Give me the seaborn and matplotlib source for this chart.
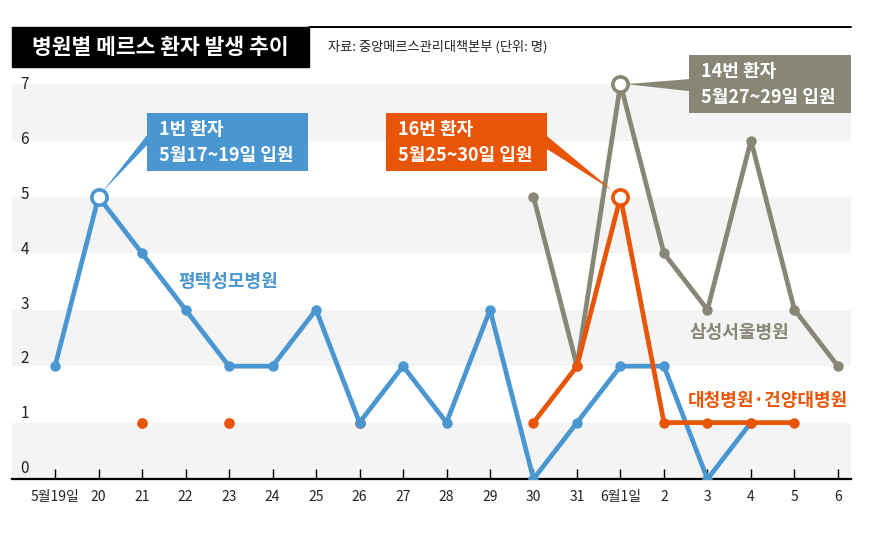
import numpy as np
import matplotlib
matplotlib.use("Agg")
import matplotlib.pyplot as plt
from matplotlib.patches import Rectangle, Polygon
from matplotlib.lines import Line2D
import seaborn as sns

# ---- data ----
dates = ["5월19일", "20", "21", "22", "23", "24", "25", "26", "27", "28", "29",
         "30", "31", "6월1일", "2", "3", "4", "5", "6"]

pyeongtaek_dates = ["5월19일", "20", "21", "22", "23", "24", "25", "26", "27",
                    "28", "29", "30", "31", "6월1일", "2", "3", "4"]
pyeongtaek = [2, 5, 4, 3, 2, 2, 3, 1, 2, 1, 3, 0, 1, 2, 2, 0, 1]

samsung_dates = ["30", "31", "6월1일", "2", "3", "4", "5", "6"]
samsung = [5, 2, 7, 4, 3, 6, 3, 2]

daecheong_dot_dates = ["21", "23", "26"]
daecheong_dots = [1, 1, 1]
daecheong_dates = ["30", "31", "6월1일", "2", "3", "4", "5"]
daecheong = [1, 2, 5, 1, 1, 1, 1]

y_labels = [0, 1, 2, 3, 4, 5, 6, 7]

title = "병원별 메르스 환자 발생 추이"
source = "자료: 중앙메르스관리대책본부 (단위: 명)"

BLUE = "#4a96d1"
ORANGE = "#e95506"
GRAY = "#888675"
BAND = "#f4f4f4"

sns.set_theme(style="white")
plt.rcParams["font.family"] = ["Noto Sans CJK KR", "DejaVu Sans"]

W, H = 876, 542
fig = plt.figure(figsize=(W / 100, H / 100), dpi=100)
ax = fig.add_axes([12 / W, 63 / H, 839 / W, 409 / H])
ax.set_xlim(-0.99, 18.3)
ax.set_ylim(0, 7.25)


def px(x, y):
    # reference pixel -> data coords (layout helper only)
    return (x - 55) / 43.5, (479 - y) / 56.43


def pos(labels):
    return [dates.index(d) for d in labels]


# alternating background bands
for v in y_labels[:-1:2]:
    ax.axhspan(v, v + 1, color=BAND, zorder=0, lw=0)

# value labels sit just above each band edge (a little higher near the floor)
for v in y_labels:
    ax.text(-0.8, v + 0.18 - 0.026 * v, str(v), fontsize=11, va="center",
            ha="left", color="#222222", zorder=1)

line_kw = dict(linewidth=3.4, marker="o", markersize=7.5, markeredgewidth=0,
               sort=False, legend=False)

# isolated dots
sns.scatterplot(x=pos(daecheong_dot_dates), y=daecheong_dots, color=ORANGE,
                s=60, linewidth=0, ax=ax, zorder=2)
sns.lineplot(x=pos(pyeongtaek_dates), y=pyeongtaek, color=BLUE, ax=ax,
             zorder=3, **line_kw)
sns.lineplot(x=pos(samsung_dates), y=samsung, color=GRAY, ax=ax,
             zorder=3, **line_kw)
sns.lineplot(x=pos(daecheong_dates), y=daecheong, color=ORANGE, ax=ax,
             zorder=4, **line_kw)

# hollow markers at each series' peak
for labels, vals, col in [(pyeongtaek_dates, pyeongtaek, BLUE),
                          (samsung_dates, samsung, GRAY),
                          (daecheong_dates, daecheong, ORANGE)]:
    i = int(np.argmax(vals))
    ax.plot(pos(labels)[i], vals[i], marker="o", ms=11, mfc="white",
            mec=col, mew=2.6, zorder=6, clip_on=False)

# callout boxes
callouts = [
    (BLUE, (147, 113, 308, 171), ["1번 환자", "5월17~19일 입원"],
     [(147, 135), (147, 145), (102, 192)]),
    (ORANGE, (386, 113, 547, 171), ["16번 환자", "5월25~30일 입원"],
     [(547, 136), (547, 149), (612, 190)]),
    (GRAY, (689, 55, 851, 113), ["14번 환자", "5월27~29일 입원"],
     [(689, 79), (689, 91), (626, 84)]),
]
for col, (x0, y0, x1, y1), lines, tri in callouts:
    (dx0, dy1), (dx1, dy0) = px(x0, y1), px(x1, y0)
    ax.add_patch(Rectangle((dx0, dy1), dx1 - dx0, dy0 - dy1, color=col,
                           lw=0, zorder=5, clip_on=False))
    ax.add_patch(Polygon([px(*p) for p in tri], closed=True, color=col,
                         lw=0, zorder=5, clip_on=False))
    for k, t in enumerate(lines):
        tx, ty = px(x0 + 12, y0 + 16 + 26 * k)
        ax.text(tx, ty, t, color="white", fontsize=13, fontweight="bold",
                ha="left", va="center", zorder=7, clip_on=False)

# series labels
for name, (x, y), col in [("평택성모병원", (228, 281), BLUE),
                          ("삼성서울병원", (739, 332), GRAY),
                          ("대청병원·건양대병원", (768, 400), ORANGE)]:
    tx, ty = px(x, y)
    ax.text(tx, ty, name, color=col, fontsize=13, fontweight="bold",
            ha="center", va="center", zorder=7)

# axes styling
ax.set_yticks([])
ax.set_xticks(range(len(dates)))
ax.set_xticklabels(dates)
ax.tick_params(axis="x", direction="in", length=7, width=1, color="black",
               pad=8, labelsize=10, labelcolor="#222222", bottom=True)
for side in ["top", "left", "right"]:
    ax.spines[side].set_visible(False)
ax.spines["bottom"].set_color("black")
ax.spines["bottom"].set_linewidth(1.6)
ax.set_xlabel("")
ax.set_ylabel("")

# header: black title box, rule and source note
fig.patches.append(Rectangle((12 / W, 1 - 67 / H), 297 / W, 40 / H,
                             transform=fig.transFigure, color="black",
                             zorder=1))
fig.lines.append(Line2D([309 / W, 851 / W], [1 - 27 / H, 1 - 27 / H],
                        transform=fig.transFigure, color="black", lw=1.4))
fig.text(160 / W, 1 - 47 / H, title, color="white", fontsize=15.5,
         fontweight="bold", ha="center", va="center")
fig.text(328 / W, 1 - 47 / H, source, color="#222222", fontsize=9.5,
         ha="left", va="center")

fig.savefig("out.png", dpi=100)
